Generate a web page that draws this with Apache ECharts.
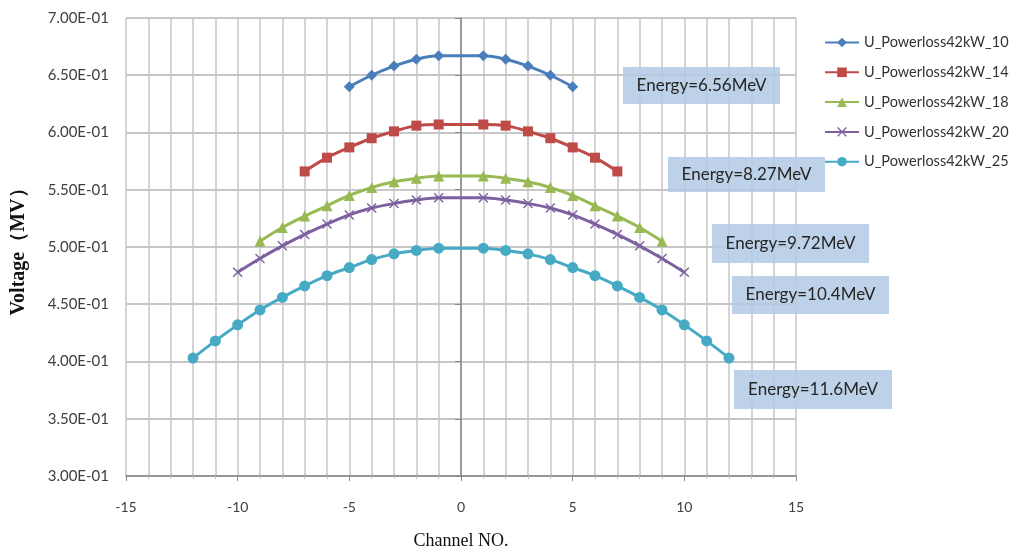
<!DOCTYPE html>
<html>
<head>
<meta charset="utf-8">
<script src="https://cdn.jsdelivr.net/npm/echarts@6/dist/echarts.min.js"></script>
<style>
  html, body { margin: 0; padding: 0; background: #fff; }
  #chart { width: 1022px; height: 552px; }
</style>
</head>
<body>
<div id="chart"></div>
<script>
// channel numbers of each curve (no point at channel 0)
let ch10 = [-5, -4, -3, -2, -1, 1, 2, 3, 4, 5];
let ch14 = [-7, -6, -5, -4, -3, -2, -1, 1, 2, 3, 4, 5, 6, 7];
let ch18 = [-9, -8, -7, -6, -5, -4, -3, -2, -1, 1, 2, 3, 4, 5, 6, 7, 8, 9];
let ch20 = [-10, -9, -8, -7, -6, -5, -4, -3, -2, -1, 1, 2, 3, 4, 5, 6, 7, 8, 9, 10];
let ch25 = [-12, -11, -10, -9, -8, -7, -6, -5, -4, -3, -2, -1, 1, 2, 3, 4, 5, 6, 7, 8, 9, 10, 11, 12];

// voltage (MV)
let u10 = [0.640, 0.650, 0.658, 0.664, 0.667, 0.667, 0.664, 0.658, 0.650, 0.640];
let u14 = [0.566, 0.578, 0.587, 0.595, 0.601, 0.606, 0.607, 0.607, 0.606, 0.601, 0.595, 0.587, 0.578, 0.566];
let u18 = [0.505, 0.517, 0.527, 0.536, 0.545, 0.552, 0.557, 0.560, 0.562,
           0.562, 0.560, 0.557, 0.552, 0.545, 0.536, 0.527, 0.517, 0.505];
let u20 = [0.478, 0.490, 0.501, 0.511, 0.520, 0.528, 0.534, 0.538, 0.541, 0.543,
           0.543, 0.541, 0.538, 0.534, 0.528, 0.520, 0.511, 0.501, 0.490, 0.478];
let u25 = [0.403, 0.418, 0.432, 0.445, 0.456, 0.466, 0.475, 0.482, 0.489, 0.494, 0.497, 0.499,
           0.499, 0.497, 0.494, 0.489, 0.482, 0.475, 0.466, 0.456, 0.445, 0.432, 0.418, 0.403];

let seriesNames = ["U_Powerloss42kW_10", "U_Powerloss42kW_14", "U_Powerloss42kW_18", "U_Powerloss42kW_20", "U_Powerloss42kW_25"];
let energyLabels = ["Energy=6.56MeV", "Energy=8.27MeV", "Energy=9.72MeV", "Energy=10.4MeV", "Energy=11.6MeV"];

let xTicks = { min: -15, max: 15, interval: 5 };
let yTicks = { min: 0.30, max: 0.70, interval: 0.05 };

let colors = ["#4a7ebb", "#be4b48", "#98b954", "#7d60a0", "#46aac5"];
let crossPath = "path://M0,1L1,0L5,4L9,0L10,1L6,5L10,9L9,10L5,6L1,10L0,9L4,5Z";
let symbols = ["diamond", "rect", "triangle", crossPath, "circle"];
let symbolSizes = [11, 10, 11, 10, 11];

function zip(xs, ys) {
  return xs.map((x, i) => [x, ys[i]]);
}

function sci(v) {
  let s = v.toExponential(2).toUpperCase().split("E");
  let e = parseInt(s[1], 10);
  let sign = e < 0 ? "-" : "+";
  e = Math.abs(e);
  return s[0] + "E" + sign + (e < 10 ? "0" + e : e);
}

let datasets = [zip(ch10, u10), zip(ch14, u14), zip(ch18, u18), zip(ch20, u20), zip(ch25, u25)];

let series = datasets.map((d, i) => ({
  name: seriesNames[i],
  type: "line",
  smooth: 0.35,
  data: d,
  symbol: symbols[i],
  symbolSize: symbolSizes[i],
  showAllSymbol: true,
  color: colors[i],
  lineStyle: { width: 3, color: colors[i] },
  itemStyle: { color: colors[i] },
  z: 3
}));

// annotation boxes (pixel layout)
let boxes = [
  [623, 67, 157, 37],
  [668, 157, 157, 35],
  [712, 224, 157, 39],
  [732, 276, 157, 38],
  [734, 370, 158, 39]
];
let graphics = [];
boxes.forEach((b, i) => {
  graphics.push({
    type: "rect",
    shape: { x: b[0], y: b[1], width: b[2], height: b[3] },
    style: { fill: "rgba(178,201,228,0.85)" },
    z: 10
  });
  graphics.push({
    type: "text",
    x: b[0] + b[2] / 2,
    y: b[1] + b[3] / 2,
    style: {
      text: energyLabels[i],
      fill: "#262626",
      font: "17px Lato",
      align: "center",
      verticalAlign: "middle"
    },
    z: 11
  });
});

let chart = echarts.init(document.getElementById("chart"));
chart.setOption({
  animation: false,
  backgroundColor: "#fff",
  grid: { left: 126, right: 226, top: 18, bottom: 76, outerBoundsMode: "none", containLabel: false },
  legend: {
    orient: "vertical",
    left: 819,
    top: 30,
    itemWidth: 34,
    itemHeight: 12,
    itemGap: 14.8,
    textStyle: { fontFamily: "Lato", fontSize: 14.5, color: "#333" },
    data: seriesNames
  },
  xAxis: {
    type: "value",
    min: xTicks.min,
    max: xTicks.max,
    interval: xTicks.interval,
    axisLine: { lineStyle: { color: "#868686", width: 1.5 } },
    axisTick: { show: true, length: 5, lineStyle: { color: "#868686" } },
    minorTick: { show: true, splitNumber: 5, length: 3, lineStyle: { color: "#c0c0c0" } },
    splitLine: { show: true, lineStyle: { color: "#c6c6c6", width: 1.5 } },
    minorSplitLine: { show: true, lineStyle: { color: "#c6c6c6", width: 1.5 } },
    axisLabel: { margin: 24, fontFamily: "Lato", fontSize: 14, color: "#404040" },
    name: "Channel NO.",
    nameLocation: "middle",
    nameGap: 56,
    nameTextStyle: { fontFamily: "Liberation Serif", fontSize: 18, color: "#111" }
  },
  yAxis: {
    type: "value",
    min: yTicks.min,
    max: yTicks.max,
    interval: yTicks.interval,
    axisLine: { show: true, lineStyle: { color: "#868686", width: 1.5 } },
    axisTick: { show: true, length: 6, lineStyle: { color: "#868686" } },
    splitLine: { show: true, lineStyle: { color: "#b4b4b4", width: 1.5 } },
    axisLabel: { margin: 17, fontFamily: "Lato", fontSize: 15, color: "#404040", formatter: sci },
    name: "Voltage（MV）",
    nameLocation: "middle",
    nameGap: 97,
    nameTextStyle: { fontFamily: "Liberation Serif", fontSize: 20, fontWeight: "bold", color: "#111" }
  },
  graphic: graphics,
  series: series
});
</script>
</body>
</html>
